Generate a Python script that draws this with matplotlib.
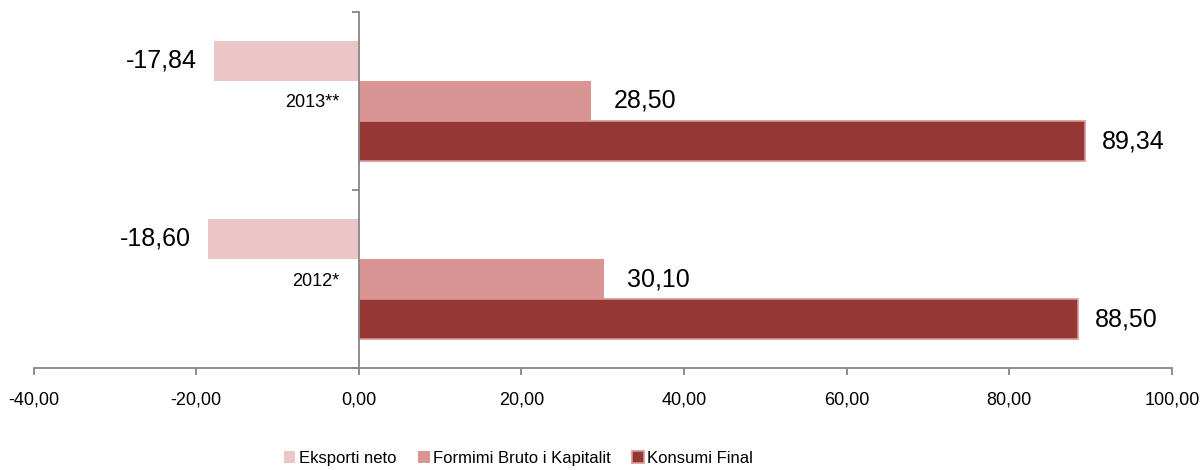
import matplotlib.pyplot as plt
import numpy as np

years = ["2012*", "2013**"]
series = ["Eksporti neto", "Formimi Bruto i Kapitalit", "Konsumi Final"]
eksporti = [-18.60, -17.84]
formimi = [30.10, 28.50]
konsumi = [88.50, 89.34]
xticks = [-40, -20, 0, 20, 40, 60, 80, 100]

colors = ["#ebc6c6", "#d99594", "#953735"]
font = ["Liberation Sans", "DejaVu Sans"]


def fmt(v):
    return f"{v:.2f}".replace(".", ",")


fig = plt.figure(figsize=(12.01, 4.70), dpi=100)
ax = fig.add_axes([0.0279, 0.217, 0.9479, 0.7575])

# spine position first: moving it resets the tick labels
for s in ["top", "right"]:
    ax.spines[s].set_visible(False)
ax.spines["left"].set_position(("data", 0))
for s in ["left", "bottom"]:
    ax.spines[s].set_color("#868686")
    ax.spines[s].set_linewidth(1.3)

y = np.arange(len(years))
h = 0.225
offsets = [h, 0, -h]
data = [eksporti, formimi, konsumi]
edges = ["none", "none", "#d99594"]
label_gap = [12, 17, 12]  # points between bar end and value label
for vals, off, c, ec, gap, name in zip(data, offsets, colors, edges, label_gap, series):
    bars = ax.barh(y + off, vals, height=h, color=c, edgecolor=ec,
                   linewidth=1.2 if ec != "none" else 0, label=name)
    for b, v in zip(bars, vals):
        yc = b.get_y() + b.get_height() / 2
        if v < 0:
            ax.annotate(fmt(v), (v, yc), xytext=(-gap, 0), textcoords="offset points",
                        ha="right", va="center", fontsize=18, family=font)
        else:
            ax.annotate(fmt(v), (v, yc), xytext=(gap, 0), textcoords="offset points",
                        ha="left", va="center", fontsize=18, family=font)

ax.set_xlim(-40, 100)
ax.set_ylim(-0.5, 1.5)
ax.set_xticks(xticks)
ax.set_xticklabels([fmt(t) for t in xticks], family=font, fontsize=13)
ax.set_yticks(y)
ax.set_yticklabels(years, family=font, fontsize=13)
ax.set_yticks([-0.5, 0.5, 1.5], minor=True)

ax.tick_params(axis="x", direction="out", length=5, width=1.3, color="#868686", pad=12)
ax.tick_params(axis="y", which="major", length=0, pad=14)
ax.tick_params(axis="y", which="minor", direction="out", length=5, width=1.3, color="#868686")

ax.legend(loc="upper center", bbox_to_anchor=(0.426, -0.19), ncol=3, frameon=False,
          prop={"family": font, "size": 12}, handlelength=0.7, handleheight=0.7,
          handletextpad=0.2, columnspacing=1.3)

fig.savefig("out.png", dpi=100)
